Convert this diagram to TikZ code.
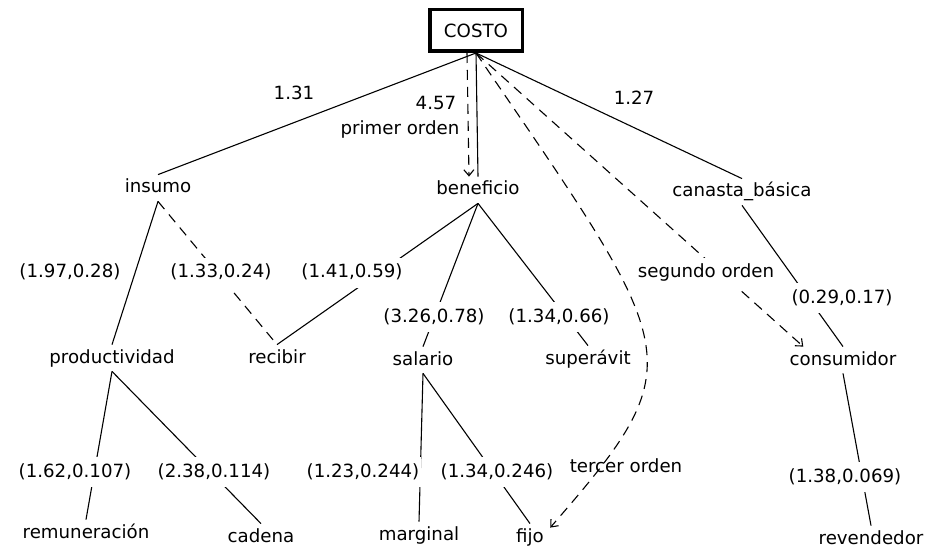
\documentclass[tikz,border=0pt]{standalone}
\usepackage{fontspec}
\setmainfont{DejaVu Sans}
\usepackage{tikz}
\usetikzlibrary{arrows.meta}
\tikzset{
  concept/.style={
    font=\fontsize{9.1pt}{11pt}\selectfont, anchor=base,
    text height=7pt, text depth=2pt, inner xsep=1pt, inner ysep=2pt},
  rootbox/.style={
    draw, line width=1.75pt, font=\fontsize{9.1pt}{11pt}\selectfont,
    minimum width=46.25pt, minimum height=20.75pt, inner sep=0pt},
  weight/.style={
    font=\fontsize{9.1pt}{11pt}\selectfont, anchor=base, fill=white,
    text height=7pt, text depth=2pt, inner xsep=1pt, inner ysep=3pt},
  tie/.style={draw, line width=0.55pt},
  dashtie/.style={tie, dash pattern=on 5pt off 3.5pt},
  orden/.style={dashtie, -{Straight Barb[length=3pt,width=5pt]}},
}
\begin{document}
\begin{tikzpicture}[x=0.5pt, y=-0.5pt]

  \fill[white] (0,0) rectangle (929,550);
  \useasboundingbox (0,0) rectangle (929,550);

  % concepts
  \node[rootbox] (costo) at (476,30.5) {COSTO};
  \node[concept] (insumo) at (158,193) {insumo};
  \node[concept] (beneficio) at (478,195) {beneficio};
  \node[concept] (canasta) at (742,197) {canasta\_básica};
  \node[concept] (productividad) at (112,363) {productividad};
  \node[concept] (recibir) at (277,363) {recibir};
  \node[concept] (salario) at (423,365) {salario};
  \node[concept] (superavit) at (588,364) {superávit};
  \node[concept] (consumidor) at (843,365) {consumidor};
  \node[concept] (remuneracion) at (86,538) {remuneración};
  \node[concept] (cadena) at (261,542) {cadena};
  \node[concept] (marginal) at (419,540) {marginal};
  \node[concept] (fijo) at (530,542) {fijo};
  \node[concept] (revendedor) at (871,544) {revendedor};

  % links
  \draw[tie] (costo.south) -- (insumo.north);
  \draw[tie] (costo.south) -- (beneficio.north);
  \draw[tie] (costo.south) -- (canasta.north);
  \draw[tie] (insumo.south) -- (productividad.north);
  \draw[dashtie] (insumo.south) -- (recibir.north);
  \draw[tie] (beneficio.south) -- (recibir.north);
  \draw[tie] (beneficio.south) -- (salario.north);
  \draw[tie] (beneficio.south) -- (superavit.north);
  \draw[tie] (canasta.south) -- (consumidor.north);
  \draw[tie] (productividad.south) -- (remuneracion.north);
  \draw[tie] (productividad.south) -- (cadena.north);
  \draw[tie] (salario.south) -- (marginal.north);
  \draw[tie] (salario.south) -- (fijo.north);
  \draw[tie] (consumidor.south) -- (revendedor.north);
  \draw[orden] ([xshift=-4.5pt]costo.south) -- ([xshift=-4.5pt]beneficio.north);
  \draw[orden] (costo.south) -- ([xshift=8pt]consumidor.north west);

  % weights
  \node[weight] (w-ins) at (294,100) {1.31};
  \node[weight] (w-ben) at (436,110) {4.57};
  \node[weight] (o-pri) at (400,135) {primer orden};
  \node[weight] (w-can) at (634,105) {1.27};
  \node[weight] (w-prod) at (70,278) {(1.97,0.28)};
  \node[weight] (w-rec1) at (221,278) {(1.33,0.24)};
  \node[weight] (w-rec2) at (352,278) {(1.41,0.59)};
  \node[weight] (o-seg) at (706,278) {segundo orden};
  \node[weight] (w-sal) at (434,322) {(3.26,0.78)};
  \node[weight] (w-sup) at (559,322) {(1.34,0.66)};
  \node[weight] (w-con) at (842,303) {(0.29,0.17)};
  \node[weight] (w-rem) at (75,477) {(1.62,0.107)};
  \node[weight] (w-cad) at (214,477) {(2.38,0.114)};
  \node[weight] (w-mar) at (363,477) {(1.23,0.244)};
  \node[weight] (w-fij) at (497,477) {(1.34,0.246)};
  \node[weight] (o-ter) at (626,472) {tercer orden};
  \node[weight] (w-rev) at (845,482) {(1.38,0.069)};

  \draw[orden] (costo.south) .. controls (682,355) and (696,360) .. ([xshift=2pt,yshift=-2pt]fijo.north east);

\end{tikzpicture}
\end{document}
